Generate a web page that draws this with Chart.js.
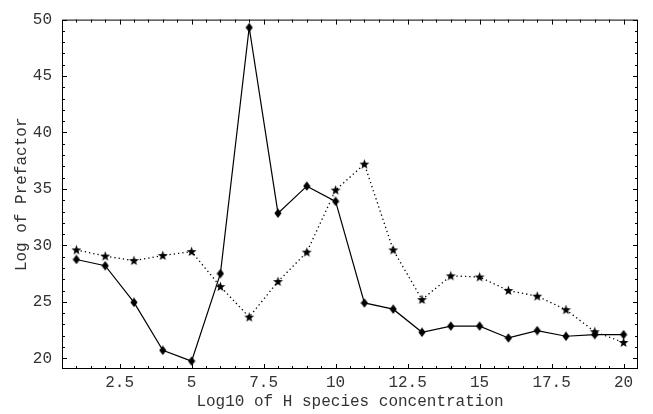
<!DOCTYPE html>
<html>
<head>
<meta charset="utf-8">
<title>Log of Prefactor</title>
<script src="https://cdn.jsdelivr.net/npm/chart.js@4/dist/chart.umd.min.js"></script>
<style>
  body { margin: 0; background: #fff; }
  #wrap { width: 653px; height: 414px; position: relative; }
</style>
</head>
<body>
<div id="wrap"><canvas id="prefactorChart"></canvas></div>
<script>
// data
const concentration = [1, 2, 3, 4, 5, 6, 7, 8, 9, 10, 11, 12, 13, 14, 15, 16, 17, 18, 19, 20]
const prefactorSolid = [28.75, 28.2, 24.95, 20.7, 19.75, 27.5, 49.3, 32.85, 35.25, 33.9,
  24.9, 24.35, 22.3, 22.85, 22.85, 21.8, 22.45, 21.95, 22.1, 22.1]
const prefactorDotted = [29.6, 29.05, 28.65, 29.1, 29.45, 26.35, 23.65, 26.8, 29.4, 34.9,
  37.2, 29.6, 25.2, 27.3, 27.2, 26.0, 25.5, 24.3, 22.35, 21.4]
const xTicks = [2.5, 5, 7.5, 10, 12.5, 15, 17.5, 20]
const yTicks = [20, 25, 30, 35, 40, 45, 50]

const textColor = "#333333"
const monoFont = { family: "'Liberation Mono', 'DejaVu Sans Mono', monospace", size: 16 }

// marker images
function makeStar() {
  const c = document.createElement("canvas")
  c.width = 11
  c.height = 11
  const ctx = c.getContext("2d")
  ctx.fillStyle = "#000"
  ctx.beginPath()
  for (let i = 0; i < 10; i++) {
    const r = i % 2 === 0 ? 5.2 : 2.1
    const a = -Math.PI / 2 + (i * Math.PI) / 5
    const px = 5.5 + r * Math.cos(a)
    const py = 5.8 + r * Math.sin(a)
    if (i === 0) ctx.moveTo(px, py)
    else ctx.lineTo(px, py)
  }
  ctx.closePath()
  ctx.fill()
  return c
}

function makeDiamond() {
  const c = document.createElement("canvas")
  c.width = 8
  c.height = 10
  const ctx = c.getContext("2d")
  ctx.fillStyle = "#000"
  ctx.beginPath()
  ctx.moveTo(4, 0.3)
  ctx.lineTo(7.6, 5)
  ctx.lineTo(4, 9.7)
  ctx.lineTo(0.4, 5)
  ctx.closePath()
  ctx.fill()
  return c
}

// frame with inward ticks on all four sides
const frameTicks = {
  id: "frameTicks",
  afterDatasetsDraw(chart) {
    const { ctx, chartArea: a, scales } = chart
    const x = scales.x
    const y = scales.y
    ctx.save()
    ctx.strokeStyle = "#000"
    ctx.lineWidth = 1
    ctx.strokeRect(a.left + 0.5, a.top + 0.5, a.right - a.left - 1, a.bottom - a.top - 1)
    ctx.beginPath()
    for (let v = 1; v < x.max; v += 0.5) {
      const len = xTicks.includes(v) ? 5 : 3
      const px = Math.round(x.getPixelForValue(v)) + 0.5
      ctx.moveTo(px, a.bottom)
      ctx.lineTo(px, a.bottom - len)
      ctx.moveTo(px, a.top)
      ctx.lineTo(px, a.top + len)
    }
    for (let v = 20; v <= y.max; v += 1) {
      const len = yTicks.includes(v) ? 5 : 3
      const py = Math.round(y.getPixelForValue(v)) + 0.5
      ctx.moveTo(a.left, py)
      ctx.lineTo(a.left + len, py)
      ctx.moveTo(a.right, py)
      ctx.lineTo(a.right - len, py)
    }
    ctx.stroke()
    ctx.restore()
  },
}

const starImg = makeStar()
const diamondImg = makeDiamond()

new Chart(document.getElementById("prefactorChart"), {
  type: "line",
  data: {
    labels: concentration,
    datasets: [
      {
        data: concentration.map((c, i) => ({ x: c, y: prefactorSolid[i] })),
        borderColor: "#000",
        borderWidth: 1.2,
        pointStyle: diamondImg,
        tension: 0,
      },
      {
        data: concentration.map((c, i) => ({ x: c, y: prefactorDotted[i] })),
        borderColor: "#000",
        borderWidth: 1.3,
        borderDash: [1.3, 3],
        pointStyle: starImg,
        tension: 0,
      },
    ],
  },
  options: {
    responsive: true,
    maintainAspectRatio: false,
    animation: false,
    layout: { padding: { top: 14, right: 15, left: 0, bottom: 0 } },
    plugins: {
      legend: { display: false },
      tooltip: { enabled: false },
    },
    scales: {
      x: {
        type: "linear",
        min: 0.5,
        max: 20.5,
        afterBuildTicks: (scale) => {
          scale.ticks = xTicks.map((v) => ({ value: v }))
        },
        afterFit: (scale) => {
          scale.height = 45
        },
        grid: { display: false, drawTicks: false },
        border: { display: false },
        ticks: {
          color: textColor,
          font: monoFont,
          padding: 4,
          maxRotation: 0,
          autoSkip: false,
          callback: (v) => String(v),
        },
        title: {
          display: true,
          text: "Log10 of H species concentration",
          color: textColor,
          font: monoFont,
          padding: { top: 0, bottom: 3 },
        },
      },
      y: {
        type: "linear",
        min: 19.05,
        max: 50,
        afterBuildTicks: (scale) => {
          scale.ticks = yTicks.map((v) => ({ value: v }))
        },
        afterFit: (scale) => {
          scale.width = 62
        },
        grid: { display: false, drawTicks: false },
        border: { display: false },
        ticks: {
          color: textColor,
          font: monoFont,
          padding: 10,
          callback: (v) => String(v),
        },
        title: {
          display: true,
          text: "Log of Prefactor",
          color: textColor,
          font: monoFont,
          padding: { top: 12, bottom: 0 },
        },
      },
    },
  },
  plugins: [frameTicks],
})
</script>
</body>
</html>
